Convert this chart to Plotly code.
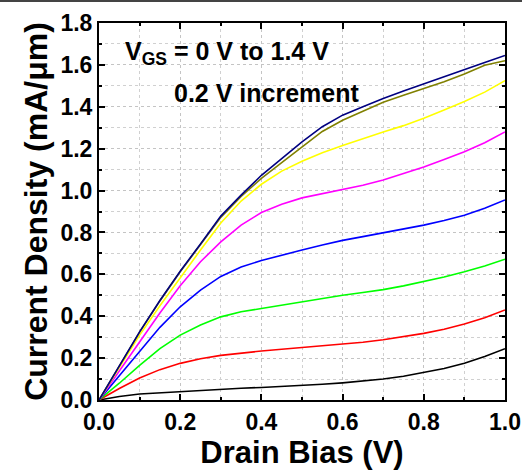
import plotly.graph_objects as go

drain_bias = [0, 0.05, 0.1, 0.15, 0.2, 0.25, 0.3, 0.35, 0.4, 0.45, 0.5,
              0.55, 0.6, 0.65, 0.7, 0.75, 0.8, 0.85, 0.9, 0.95, 1.0]

j_vgs_0_0 = [0, 0.017, 0.029, 0.035, 0.04, 0.046, 0.051, 0.056, 0.06, 0.064, 0.069,
             0.075, 0.082, 0.09, 0.1, 0.113, 0.13, 0.15, 0.175, 0.208, 0.245]
j_vgs_0_2 = [0, 0.055, 0.105, 0.145, 0.175, 0.197, 0.213, 0.225, 0.234, 0.242, 0.25,
             0.257, 0.265, 0.276, 0.288, 0.302, 0.318, 0.338, 0.363, 0.393, 0.43]
j_vgs_0_4 = [0, 0.08, 0.165, 0.245, 0.31, 0.358, 0.397, 0.421, 0.437, 0.453, 0.468,
             0.484, 0.5, 0.513, 0.527, 0.545, 0.565, 0.587, 0.612, 0.64, 0.672]
j_vgs_0_6 = [0, 0.115, 0.232, 0.347, 0.445, 0.525, 0.59, 0.635, 0.666, 0.692, 0.716,
             0.74, 0.762, 0.78, 0.798, 0.815, 0.835, 0.857, 0.882, 0.915, 0.955]
j_vgs_0_8 = [0, 0.14, 0.278, 0.415, 0.545, 0.66, 0.755, 0.835, 0.895, 0.935, 0.965,
             0.985, 1.003, 1.025, 1.05, 1.08, 1.113, 1.148, 1.185, 1.228, 1.28]
j_vgs_1_0 = [0, 0.155, 0.31, 0.45, 0.585, 0.716, 0.845, 0.95, 1.03, 1.093, 1.14,
             1.18, 1.215, 1.248, 1.28, 1.31, 1.345, 1.385, 1.425, 1.47, 1.525]
j_vgs_1_2 = [0, 0.164, 0.324, 0.473, 0.612, 0.742, 0.872, 0.972, 1.058, 1.133, 1.209,
             1.282, 1.336, 1.38, 1.422, 1.455, 1.487, 1.52, 1.556, 1.598, 1.62]
j_vgs_1_4 = [0, 0.165, 0.325, 0.475, 0.615, 0.745, 0.878, 0.978, 1.073, 1.153, 1.232,
             1.305, 1.36, 1.4, 1.44, 1.475, 1.51, 1.545, 1.578, 1.612, 1.645]

series = [
    ("V<sub>GS</sub> = 0 V", j_vgs_0_0, "#000000"),
    ("V<sub>GS</sub> = 0.2 V", j_vgs_0_2, "#ff0000"),
    ("V<sub>GS</sub> = 0.4 V", j_vgs_0_4, "#00ff00"),
    ("V<sub>GS</sub> = 0.6 V", j_vgs_0_6, "#0000ff"),
    ("V<sub>GS</sub> = 0.8 V", j_vgs_0_8, "#ff00ff"),
    ("V<sub>GS</sub> = 1.0 V", j_vgs_1_0, "#ffff00"),
    ("V<sub>GS</sub> = 1.2 V", j_vgs_1_2, "#808000"),
    ("V<sub>GS</sub> = 1.4 V", j_vgs_1_4, "#000080"),
]

x_ticks = [0.0, 0.2, 0.4, 0.6, 0.8, 1.0]
y_ticks = [0.0, 0.2, 0.4, 0.6, 0.8, 1.0, 1.2, 1.4, 1.6, 1.8]

FONT = "Liberation Sans, Arial, sans-serif"

fig = go.Figure()
for name, ys, color in series:
    fig.add_trace(go.Scatter(x=drain_bias, y=ys, mode="lines", name=name,
                             line=dict(color=color, width=1.6)))

axis_common = dict(
    showline=True, linewidth=2, linecolor="black", mirror="ticks",
    ticks="inside", ticklen=6, tickwidth=2, tickcolor="black",
    showgrid=True, gridcolor="#c4c4c4", gridwidth=1, griddash="dot",
    zeroline=False, tickformat=".1f", automargin=False,
    tickfont=dict(family=FONT, size=23, color="black", weight=700),
    minor=dict(ticks="inside", ticklen=3, tickwidth=1.5, tickcolor="black",
               dtick=0.1, showgrid=True, gridcolor="#d0d0d0", griddash="dot", gridwidth=1),
)

fig.update_xaxes(range=[0, 1.0], tickvals=x_ticks, **axis_common,
                 title=dict(text="Drain Bias (V)", standoff=7,
                            font=dict(family=FONT, size=31, color="black", weight=700)))
fig.update_yaxes(range=[0, 1.8], tickvals=y_ticks, **axis_common,
                 title=dict(text="Current Density (mA/\u03bcm)", standoff=3,
                            font=dict(family=FONT, size=32, color="black", weight=700)))

fig.add_annotation(xref="paper", yref="paper", x=0.06, y=0.92, xanchor="left", yanchor="middle",
                   text="V<sub>GS</sub> = 0 V to 1.4 V", showarrow=False,
                   font=dict(family=FONT, size=25, color="black", weight=700))
fig.add_annotation(xref="paper", yref="paper", x=0.18, y=0.815, xanchor="left", yanchor="middle",
                   text="0.2 V increment", showarrow=False,
                   font=dict(family=FONT, size=25, color="black", weight=700))

# thin frame line at the very top of the picture
fig.add_shape(type="line", xref="paper", yref="paper",
              x0=-99 / 406, x1=(522 - 99) / 406, y0=1 + 22 / 377, y1=1 + 22 / 377,
              line=dict(color="#444444", width=2))

fig.update_layout(
    width=522, height=472,
    margin=dict(l=99, r=17, t=23, b=72),
    paper_bgcolor="white", plot_bgcolor="white",
    showlegend=False,
    font=dict(family=FONT, color="black"),
)

fig.write_html("out.html")
